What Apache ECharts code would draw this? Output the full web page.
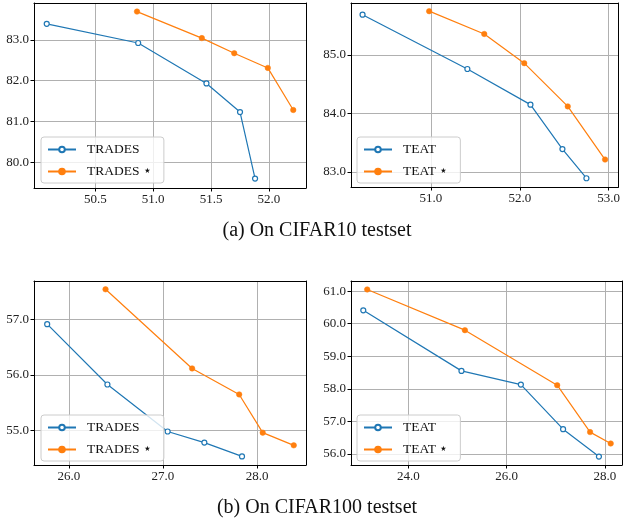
<!DOCTYPE html>
<html>
<head>
<meta charset="utf-8">
<script src="https://cdn.jsdelivr.net/npm/echarts@6/dist/echarts.min.js"></script>
<style>
  html, body { margin: 0; padding: 0; background: #fff; }
  #main { width: 623px; height: 520px; }
</style>
</head>
<body>
<div id="main"></div>
<script>
// CIFAR10 - TRADES
const c10TradesX = [50.08, 50.87, 51.46, 51.75, 51.88];
const c10TradesY = [83.39, 82.92, 81.93, 81.23, 79.60];
const c10TradesStarX = [50.86, 51.42, 51.70, 51.99, 52.21];
const c10TradesStarY = [83.69, 83.04, 82.67, 82.31, 81.28];
// CIFAR10 - TEAT
const c10TeatX = [50.23, 51.41, 52.12, 52.48, 52.75];
const c10TeatY = [85.69, 84.76, 84.15, 83.39, 82.89];
const c10TeatStarX = [50.98, 51.60, 52.05, 52.54, 52.96];
const c10TeatStarY = [85.75, 85.36, 84.86, 84.12, 83.21];
// CIFAR100 - TRADES
const c100TradesX = [25.77, 26.41, 27.05, 27.44, 27.84];
const c100TradesY = [56.92, 55.83, 54.98, 54.78, 54.53];
const c100TradesStarX = [26.39, 27.31, 27.81, 28.06, 28.39];
const c100TradesStarY = [57.55, 56.12, 55.65, 54.96, 54.73];
// CIFAR100 - TEAT
const c100TeatX = [23.08, 25.08, 26.29, 27.15, 27.88];
const c100TeatY = [60.41, 58.55, 58.13, 56.76, 55.92];
const c100TeatStarX = [23.16, 25.15, 27.03, 27.70, 28.12];
const c100TeatStarY = [61.05, 59.80, 58.11, 56.67, 56.32];

// tick labels
const xTicks = [[50.5, 51.0, 51.5, 52.0], [51.0, 52.0, 53.0], [26.0, 27.0, 28.0], [24.0, 26.0, 28.0]];
const yTicks = [[80.0, 81.0, 82.0, 83.0], [83.0, 84.0, 85.0], [55.0, 56.0, 57.0], [56.0, 57.0, 58.0, 59.0, 60.0, 61.0]];
const xRange = [[49.97, 52.32], [50.10, 53.11], [25.63, 28.52], [22.83, 28.35]];
const yRange = [[79.37, 83.90], [82.74, 85.89], [54.375, 57.70], [55.66, 61.31]];

const captions = ['(a) On CIFAR10 testset', '(b) On CIFAR100 testset'];
const names = [['TRADES', 'TRADES \u22c6'], ['TEAT', 'TEAT \u22c6'], ['TRADES', 'TRADES \u22c6'], ['TEAT', 'TEAT \u22c6']];

const blue = '#1f77b4';
const orange = '#ff7f0e';
const serif = 'Liberation Serif';

const grids = [
  { left: 34, top: 3, width: 272, height: 185 },
  { left: 351, top: 3, width: 270, height: 184 },
  { left: 34, top: 281, width: 272, height: 184 },
  { left: 351, top: 281, width: 271, height: 184 }
];

function zip(xs, ys) {
  return xs.map((x, i) => [x, ys[i]]);
}

const panelData = [
  [zip(c10TradesX, c10TradesY), zip(c10TradesStarX, c10TradesStarY)],
  [zip(c10TeatX, c10TeatY), zip(c10TeatStarX, c10TeatStarY)],
  [zip(c100TradesX, c100TradesY), zip(c100TradesStarX, c100TradesStarY)],
  [zip(c100TeatX, c100TeatY), zip(c100TeatStarX, c100TeatStarY)]
];

function axis(i, isX) {
  const ticks = isX ? xTicks[i] : yTicks[i];
  const range = isX ? xRange[i] : yRange[i];
  return {
    type: 'value',
    gridIndex: i,
    min: range[0],
    max: range[1],
    axisLine: { show: true, onZero: false, lineStyle: { color: '#000', width: 1 } },
    axisTick: { show: true, inside: false, length: 3.5, customValues: ticks, lineStyle: { color: '#000' } },
    axisLabel: {
      customValues: ticks,
      margin: 5,
      color: '#222',
      fontFamily: serif,
      fontSize: 13,
      formatter: v => v.toFixed(1)
    },
    splitLine: { show: true, lineStyle: { color: '#b0b0b0', width: 1 } }
  };
}

const xAxis = [], yAxis = [], series = [], legend = [];
const legendPos = [
  { left: 41, top: 137 },
  { left: 357, top: 137 },
  { left: 41, top: 415 },
  { left: 357, top: 415 }
];

for (let i = 0; i < 4; i++) {
  xAxis.push(axis(i, true));
  // mirror box on top and right
  xAxis.push({ type: 'value', gridIndex: i, position: 'top', min: xRange[i][0], max: xRange[i][1],
    axisLine: { show: true, onZero: false, lineStyle: { color: '#000' } },
    axisTick: { show: false }, axisLabel: { show: false }, splitLine: { show: false } });
  yAxis.push(axis(i, false));
  yAxis.push({ type: 'value', gridIndex: i, position: 'right', min: yRange[i][0], max: yRange[i][1],
    axisLine: { show: true, onZero: false, lineStyle: { color: '#000' } },
    axisTick: { show: false }, axisLabel: { show: false }, splitLine: { show: false } });

  series.push({
    name: names[i][0] + '#' + i,
    type: 'line',
    xAxisIndex: i * 2,
    yAxisIndex: i * 2,
    data: panelData[i][0],
    symbol: 'circle',
    symbolSize: 5,
    showAllSymbol: true,
    lineStyle: { color: blue, width: 1.2 },
    itemStyle: { color: '#fff', borderColor: blue, borderWidth: 1.2 },
    emphasis: { disabled: true },
    z: 3
  });
  series.push({
    name: names[i][1] + '#' + i,
    type: 'line',
    xAxisIndex: i * 2,
    yAxisIndex: i * 2,
    data: panelData[i][1],
    symbol: 'circle',
    symbolSize: 5.5,
    showAllSymbol: true,
    lineStyle: { color: orange, width: 1.2 },
    itemStyle: { color: orange, borderColor: orange, borderWidth: 0.5 },
    emphasis: { disabled: true },
    z: 3
  });

  legend.push({
    left: legendPos[i].left,
    top: legendPos[i].top,
    orient: 'vertical',
    data: [names[i][0] + '#' + i, names[i][1] + '#' + i],
    formatter: n => n.split('#')[0],
    itemWidth: 28,
    itemHeight: 7,
    itemGap: 7,
    padding: [5, 12, 4, 6],
    backgroundColor: 'rgba(255,255,255,0.8)',
    borderColor: '#cccccc',
    borderWidth: 1,
    borderRadius: 3,
    selectedMode: false,
    textStyle: { fontFamily: serif, fontSize: 13.5, color: '#111', padding: [0, 0, 0, 6], lineHeight: 15 }
  });
}

const chart = echarts.init(document.getElementById('main'), null, { renderer: 'canvas' });
chart.setOption({
  animation: false,
  backgroundColor: '#fff',
  grid: grids,
  xAxis: xAxis,
  yAxis: yAxis,
  legend: legend,
  series: series,
  graphic: [
    { type: 'text', x: 317, y: 231, style: { text: captions[0], font: '20px "Liberation Serif"', fill: '#111', textAlign: 'center', textVerticalAlign: 'middle' } },
    { type: 'text', x: 317, y: 508, style: { text: captions[1], font: '20px "Liberation Serif"', fill: '#111', textAlign: 'center', textVerticalAlign: 'middle' } }
  ]
});
</script>
</body>
</html>
